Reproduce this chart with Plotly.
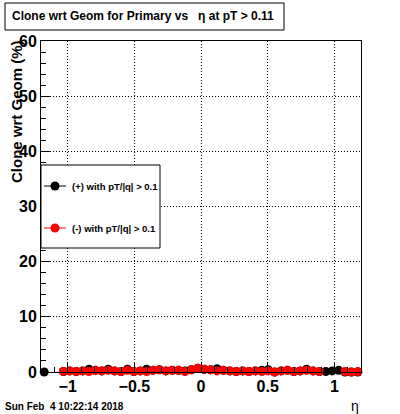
import plotly.graph_objects as go

# bin centres in eta (50 bins from -1.2 to 1.2)
eta = [round(-1.176 + 0.048 * k, 3) for k in range(50)]

plus_vals = [0.0, None, None, 0.1, 0.2, 0.1, 0.2, 0.5, 0.3, 0.2,
             0.5, 0.2, 0.1, 0.5, 0.1, 0.2, 0.5, 0.3, 0.4, 0.2,
             0.3, 0.3, 0.2, 0.4, 0.7, 0.5, 0.4, 0.6, 0.3, 0.2,
             0.1, 0.2, 0.1, 0.2, 0.3, 0.4, 0.0, 0.2, 0.3, 0.1,
             0.2, 0.5, 0.2, 0.1, 0.1, 0.2, 0.3, 0.0, 0.0, 0.0]
minus_vals = [None, None, None, 0.1, 0.2, 0.1, 0.2, 0.1, 0.3, 0.2,
              0.3, 0.2, 0.1, 0.3, 0.1, 0.2, 0.1, 0.3, 0.4, 0.2,
              0.3, 0.3, 0.1, 0.4, 0.7, 0.5, 0.4, 0.2, 0.3, 0.2,
              0.1, 0.2, 0.1, 0.2, 0.1, 0.2, 0.0, 0.2, 0.3, 0.1,
              0.2, 0.3, 0.2, 0.1, None, None, None, 0.1, 0.0, 0.1]

series_names = ["(+) with pT/|q| > 0.1", "(-) with pT/|q| > 0.1"]
series_colors = ["black", "red"]
y_ticks = [0, 10, 20, 30, 40, 50, 60]
x_ticks = [-1, -0.5, 0, 0.5, 1]

FONT = "Liberation Sans"
W, H = 400, 414
L, R, T, B = 41, 39, 41, 42
PW, PH = W - L - R, H - T - B


def px(x):
    return (x - L) / PW


def py(y):
    return (H - B - y) / PH


fig = go.Figure()
for vals, name, col in zip([plus_vals, minus_vals], series_names, series_colors):
    fig.add_trace(go.Scatter(
        x=eta, y=vals, mode="markers", name=name,
        marker=dict(color=col, size=9, symbol="circle"),
        cliponaxis=False, showlegend=False))

axis_common = dict(
    showline=True, linecolor="black", linewidth=1, mirror=True,
    ticks="inside", tickcolor="black", showgrid=True, gridcolor="black",
    griddash="1px,2px", gridwidth=1, zeroline=False, automargin=False,
    tickfont=dict(family=FONT, size=16, color="black", weight="bold"),
)
fig.update_xaxes(range=[-1.2, 1.2], tickvals=x_ticks, ticktext=["\u22121", "\u22120.5", "0", "0.5", "1"],
                 ticklen=9, minor=dict(ticks="inside", ticklen=5, dtick=0.1, tick0=0, tickcolor="black"),
                 **axis_common)
fig.update_yaxes(range=[0, 60], tickvals=y_ticks, ticklen=9,
                 minor=dict(ticks="inside", ticklen=5, dtick=2, tick0=0, tickcolor="black"),
                 **axis_common)

shapes = []
annotations = []
# title box
shapes.append(dict(type="rect", xref="paper", yref="paper", x0=px(5), x1=px(284), y0=py(30), y1=py(3),
                   line=dict(color="black", width=1), fillcolor="white", layer="above"))
annotations.append(dict(xref="paper", yref="paper", x=px(143), y=py(16.5), xanchor="center", yanchor="middle",
                        text="Clone wrt Geom for Primary vs   \u03b7 at pT > 0.11", showarrow=False,
                        font=dict(family=FONT, size=12, color="black", weight="bold")))
# legend box
shapes.append(dict(type="rect", xref="paper", yref="paper", x0=px(41), x1=px(160), y0=py(248), y1=py(165),
                   line=dict(color="black", width=1), fillcolor="white", layer="above"))
for i, (name, col) in enumerate(zip(series_names, series_colors)):
    yy = py(186 + 42 * i)
    shapes.append(dict(type="line", xref="paper", yref="paper", x0=px(44), x1=px(66), y0=yy, y1=yy,
                       line=dict(color=col, width=1), layer="above"))
    shapes.append(dict(type="circle", xref="paper", yref="paper", xsizemode="pixel", ysizemode="pixel",
                       xanchor=px(55), yanchor=yy, x0=-4.5, x1=4.5, y0=-4.5, y1=4.5,
                       line=dict(color=col, width=0), fillcolor=col, layer="above"))
    annotations.append(dict(xref="paper", yref="paper", x=px(70), y=yy, xanchor="left", yanchor="middle",
                            text=name, showarrow=False,
                            font=dict(family=FONT, size=9.5, color="black", weight="bold")))
# axis titles
annotations.append(dict(xref="paper", yref="paper", x=px(16), y=py(112), xanchor="center", yanchor="middle",
                        text="Clone wrt Geom (%)", textangle=-90, showarrow=False,
                        font=dict(family=FONT, size=15, color="black", weight="bold")))
annotations.append(dict(xref="paper", yref="paper", x=px(355), y=py(406), xanchor="center", yanchor="middle",
                        text="\u03b7", showarrow=False,
                        font=dict(family=FONT, size=14, color="black")))
annotations.append(dict(xref="paper", yref="paper", x=px(3), y=py(406), xanchor="left", yanchor="middle",
                        text="Sun Feb  4 10:22:14 2018", showarrow=False,
                        font=dict(family=FONT, size=10, color="black", weight="bold")))

fig.update_layout(
    width=W, height=H, margin=dict(l=L, r=R, t=T, b=B, pad=0, autoexpand=False),
    paper_bgcolor="white", plot_bgcolor="white",
    shapes=shapes, annotations=annotations, showlegend=False,
)
fig.write_html("out.html", config={"displayModeBar": False},
               post_script="document.body.style.margin='0';document.body.style.padding='0';")
